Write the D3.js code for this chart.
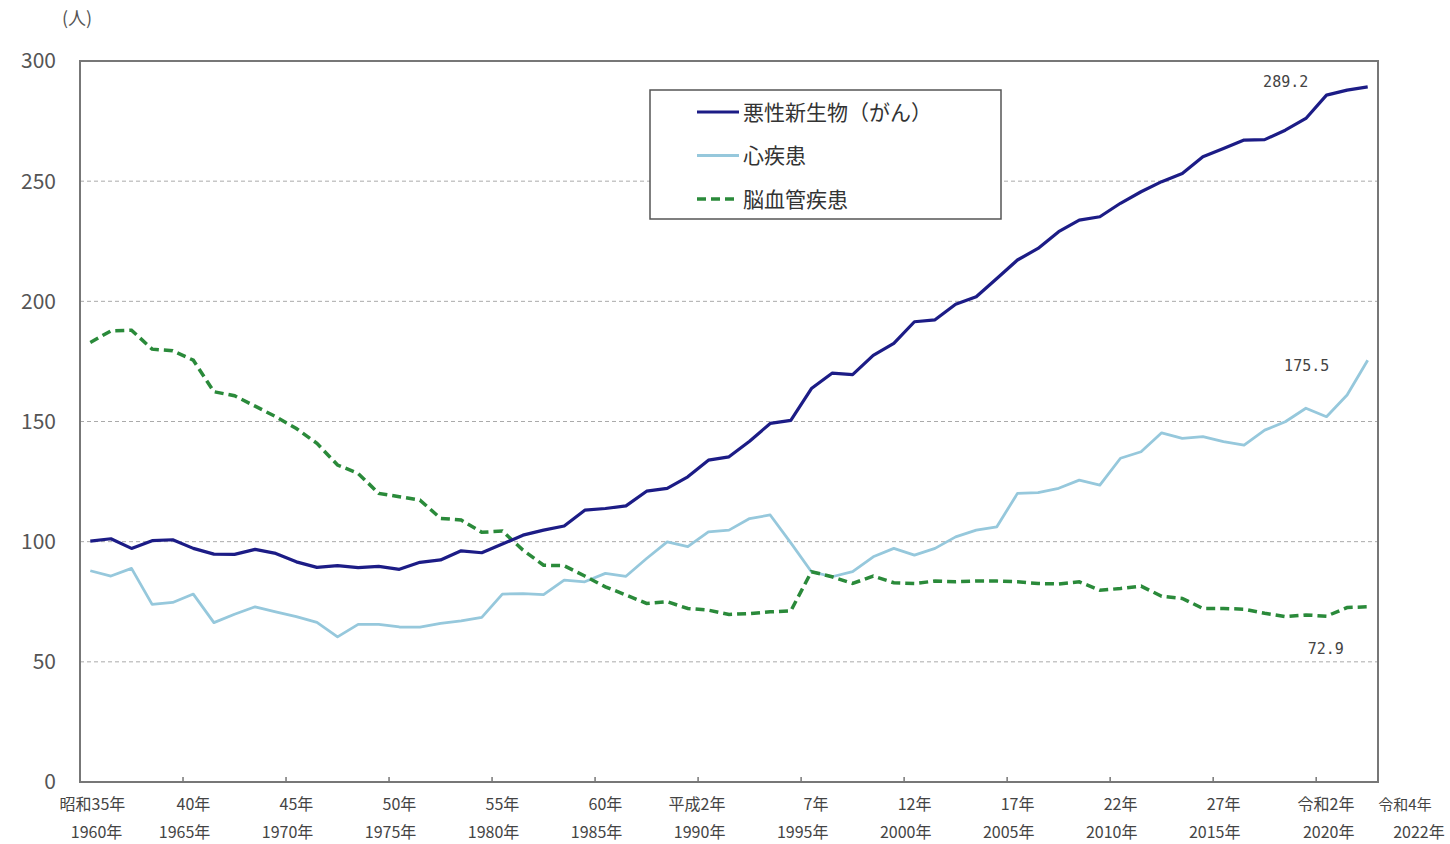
<!DOCTYPE html>
<html><head><meta charset="utf-8">
<script src="https://cdn.jsdelivr.net/npm/d3@7"></script>
<style>
html,body{margin:0;padding:0;background:#fff;}
svg{font-family:"Noto Sans CJK JP","Noto Sans",sans-serif;}
</style></head>
<body><svg id="chart" width="1450" height="844"></svg>
<script>
const years = d3.range(1960, 2023);
const cancer = [100.2,101.2,97.2,100.4,100.8,97.2,94.8,94.7,96.8,95.1,91.6,89.3,90.0,89.2,89.7,88.5,91.4,92.4,96.2,95.4,
  99.0,102.7,104.8,106.5,113.1,113.8,114.9,121.0,122.2,127.0,133.9,135.3,141.8,149.2,150.5,163.7,170.1,169.5,177.5,182.5,
  191.5,192.3,198.8,201.9,209.5,217.2,222.0,229.0,233.8,235.2,240.8,245.6,249.8,253.2,260.2,263.6,267.1,267.3,271.2,276.1,
  285.8,287.9,289.2];
const heart = [87.9,85.7,88.9,73.9,74.7,78.2,66.3,69.8,72.9,70.8,68.8,66.4,60.4,65.6,65.6,64.5,64.4,66.0,67.0,68.5,
  78.2,78.4,78.0,84.0,83.3,86.8,85.6,93.0,99.9,97.9,104.1,104.8,109.6,111.1,99.5,87.5,85.4,87.5,93.7,97.2,
  94.4,97.2,102.0,104.8,106.2,120.1,120.4,122.2,125.6,123.5,134.7,137.4,145.3,143.0,143.7,141.6,140.2,146.4,149.9,155.5,
  152.0,161.0,175.5];
const stroke = [182.9,187.7,188.0,180.1,179.4,175.5,162.4,160.7,156.4,152.0,147.1,140.9,131.9,128.4,120.1,118.7,117.3,109.7,109.0,103.9,
  104.4,96.5,90.2,90.0,85.7,81.2,77.8,74.3,75.0,72.2,71.5,69.7,70.1,70.8,71.2,87.5,85.4,82.6,85.7,82.9,
  82.6,83.6,83.3,83.6,83.6,83.3,82.6,82.4,83.3,79.8,80.5,81.5,77.3,76.4,72.2,72.2,71.9,70.2,68.8,69.5,
  69.0,72.6,72.9];
const seriesNames = ["悪性新生物（がん）", "心疾患", "脳血管疾患"];
const yTicks = [0, 50, 100, 150, 200, 250, 300];
const labelYears = [1960,1965,1970,1975,1980,1985,1990,1995,2000,2005,2010,2015,2020];
const eraLabels = ["昭和35年","40年","45年","50年","55年","60年","平成2年","7年","12年","17年","22年","27年","令和2年"];
const adLabels = ["1960年","1965年","1970年","1975年","1980年","1985年","1990年","1995年","2000年","2005年","2010年","2015年","2020年"];
const lastEra = "令和4年", lastAd = "2022年";
const unitLabel = "(人)";

const svg = d3.select("#chart");
const L = 80, R = 1378, T = 61, B = 782;
const x = d3.scalePoint().domain(years).range([L, R]).padding(0.5);
const step = x.step();
const y = d3.scaleLinear().domain([0, 300]).range([B, T]);

// gridlines
svg.append("g").selectAll("line").data(yTicks.filter(v => v > 0 && v < 300)).join("line")
  .attr("x1", L).attr("x2", R).attr("y1", d => y(d)).attr("y2", d => y(d))
  .attr("stroke", "#aaa").attr("stroke-width", 1).attr("stroke-dasharray", "4,3");

// plot frame
svg.append("rect").attr("x", L).attr("y", T).attr("width", R - L).attr("height", B - T)
  .attr("fill", "none").attr("stroke", "#777").attr("stroke-width", 2);

// x ticks at category boundaries
const tickB = d3.range(1, 13).map(k => L + k * 5 * step);
svg.append("g").selectAll("line").data(tickB).join("line")
  .attr("x1", d => d).attr("x2", d => d).attr("y1", B).attr("y2", B - 5)
  .attr("stroke", "#777").attr("stroke-width", 1.5);

// y tick labels
svg.append("g").selectAll("text").data(yTicks).join("text")
  .attr("x", 56).attr("y", d => y(d)).attr("dy", "0.35em").attr("text-anchor", "end")
  .attr("font-size", 21).attr("fill", "#555").text(d => d);
svg.append("text").attr("x", 77).attr("y", 25).attr("text-anchor", "middle")
  .attr("font-size", 18).attr("fill", "#555").text(unitLabel);

// x labels (right-aligned a little past each category centre)
const off = (i) => i === 0 ? 35 : (i === labelYears.length - 1 ? 28 : 17);
const xl = svg.append("g").attr("font-size", 16).attr("fill", "#444").attr("text-anchor", "end");
xl.selectAll("text.era").data(labelYears).join("text").attr("class", "era")
  .attr("x", (d, i) => x(d) + off(i)).attr("y", 810).text((d, i) => eraLabels[i]);
xl.selectAll("text.ad").data(labelYears).join("text").attr("class", "ad")
  .attr("x", (d, i) => x(d) + off(i) + (i === 0 ? -3 : 0)).attr("y", 838).text((d, i) => adLabels[i]);
xl.append("text").attr("x", x(2022) + 64).attr("y", 810).attr("font-size", 15).text(lastEra);
xl.append("text").attr("x", x(2022) + 77).attr("y", 838).text(lastAd);

// lines
const line = d3.line().x((d, i) => x(years[i])).y(d => y(d));
svg.append("path").datum(heart).attr("d", line).attr("fill", "none")
  .attr("stroke", "#96c8dc").attr("stroke-width", 2.8).attr("stroke-linejoin", "round");
svg.append("path").datum(stroke).attr("d", line).attr("fill", "none")
  .attr("stroke", "#2a8a3a").attr("stroke-width", 3.5).attr("stroke-dasharray", "9,5");
svg.append("path").datum(cancer).attr("d", line).attr("fill", "none")
  .attr("stroke", "#1c1c86").attr("stroke-width", 3.2).attr("stroke-linejoin", "round");

// end value labels
const vl = svg.append("g").attr("font-family", "'DejaVu Sans Mono','Liberation Mono',monospace")
  .attr("font-size", 15).attr("fill", "#444").attr("text-anchor", "middle");
vl.append("text").attr("x", x(2022) - 82).attr("y", y(cancer[62])).text(cancer[62].toFixed(1));
vl.append("text").attr("x", x(2022) - 61).attr("y", y(heart[62]) + 11).text(heart[62].toFixed(1));
vl.append("text").attr("x", x(2022) - 42).attr("y", y(stroke[62]) + 47).text(stroke[62].toFixed(1));

// legend
const lg = svg.append("g");
lg.append("rect").attr("x", 650).attr("y", 90).attr("width", 351).attr("height", 129)
  .attr("fill", "#fff").attr("stroke", "#555").attr("stroke-width", 1.5);
const lstyles = [
  {c: "#1c1c86", w: 3.2, d: null},
  {c: "#96c8dc", w: 2.8, d: null},
  {c: "#2a8a3a", w: 3.5, d: "9,5"}];
seriesNames.forEach((n, i) => {
  const yy = 112 + i * 43.5;
  lg.append("line").attr("x1", 697).attr("x2", 739).attr("y1", yy).attr("y2", yy)
    .attr("stroke", lstyles[i].c).attr("stroke-width", lstyles[i].w)
    .attr("stroke-dasharray", lstyles[i].d);
  lg.append("text").attr("x", 743).attr("y", yy).attr("dy", "0.36em")
    .attr("font-size", 21).attr("fill", "#333").text(n);
});
</script></body></html>
